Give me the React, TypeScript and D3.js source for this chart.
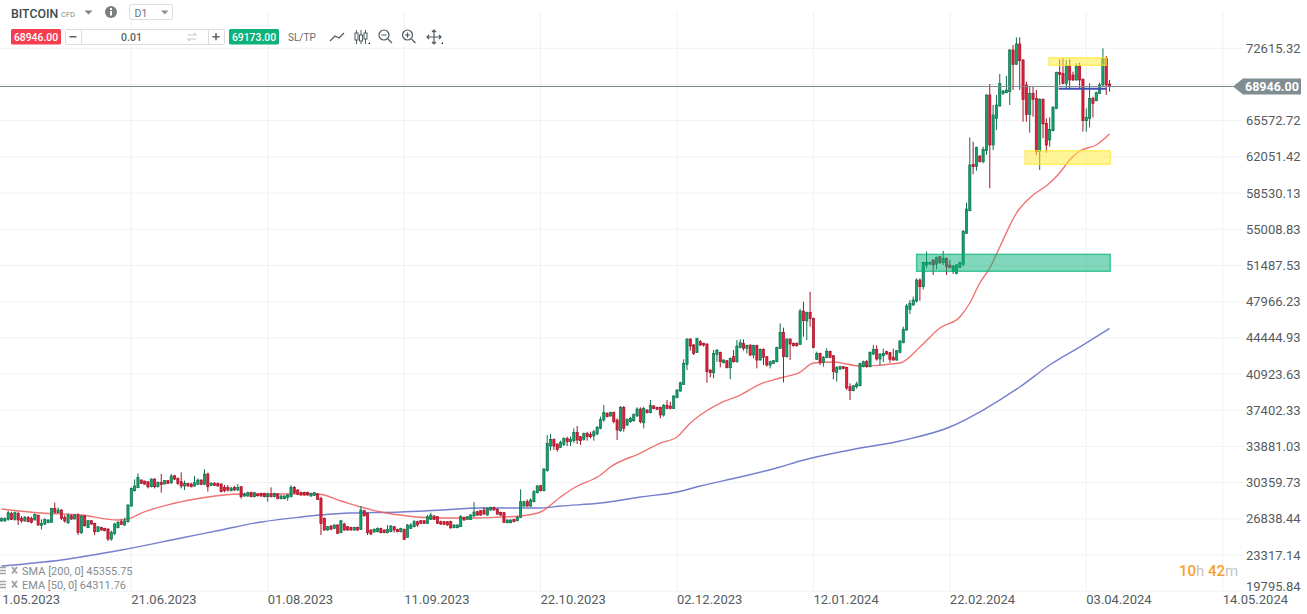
import * as d3 from "d3";

const startDate = "13.05.2023";

// daily OHLC
const opens = [
  26625,26625,26785,27370,26785,27370,26885,26625,26980,26885,
  26720,27205,26200,26330,26495,26495,27855,27435,27695,26980,
  26460,27140,26820,27205,25490,27110,25975,26655,26395,25585,
  26005,25910,25845,24870,25425,25975,26560,26235,26560,28080,
  29575,29865,30610,30510,30450,29960,30710,29960,30385,30220,
  30550,30350,31030,30770,30450,30030,30290,30220,30030,30190,
  30610,30190,31200,30090,30290,30290,30220,29900,29900,29575,
  29900,29640,
  29965,29055,29055,29410,28990,29250,29315,29315,28990,29250,
  28990,29250,28795,28795,28925,28990,29900,29640,29410,29410,
  29410,29055,29120,29250,28830,26880,25750,26135,25910,26235,
  25490,26330,26070,26005,25750,26005,25815,27630,27370,25750,
  25555,25585,25910,25750,25490,25585,26070,25815,25585,25815,
  25030,25910,26070,26560,26655,26655,26395,26785,27110,27045,
  26560,26560,26560,26560,25975,25975,26070,26980,26785,26785,
  27110,27530,27630,27695,27205,27695,27955,27760,27465,27435,
  26460,26460,26785,26655,26980,28080,28505,28080,28505,29380,
  30060,29575,31520,33920,34570,34115,33790,34085,34665,34345,
  34440,35250,34830,34570,35155,35055,34895,35090,35640,36450,
  37100,36840,37200,36450,35415,37685,35965,36290,36385,36840,
  37520,36190,37425,37165,37815,37685,37685,36940,37880,37815,
  37585,38625,39270,39920,41865,44330,43750,43035,44070,43910,
  43845,41315,41055,42840,43035,42030,42225,41540,42610,42125,
  43520,43910,43425,43750,42775,43715,42290,43325,42610,41800,
  41965,42125,
  43425,44981,42613,44332,43911,43911,43814,47056,46084,46927,46343,
  42354,42938,42062,42549,43133,42711,41090,41414,41642,41576,
  39695,39306,39695,39793,41641,42128,41641,42873,43328,42387,
  42711,43101,43003,42549,42290,43035,43976,45208,47219,47641,
  48030,50073,49424,51532,51630,52019,51630,52343,51759,52181,
  51532,50884,50721,51305,
  51597,54615,56820,61328,61101,62138,61587,62657,68073,63208,
  65803,67003,68235,68300,68397,72451,71057,73035,71478,69046,
  66192,68235,67749,62560,67652,65317,63695,64603,66776,70278,
  70181,69208,70895,70019,69533,70895,69597,65576,65803,67749,
  67522,68235,69046,71640,69143,
];
const closes = [
  26885,26885,27435,26785,27435,26720,26625,26980,26560,26495,
  27270,26235,26395,26785,26720,27855,27470,27695,26885,26625,
  27205,26820,27205,25520,27110,26170,26655,26330,25585,26070,
  25750,25685,24870,25520,26330,26495,26300,26625,28180,29800,
  30030,30870,30290,30220,29960,30710,29960,30385,30190,30550,
  30290,30990,30710,30290,30030,30290,30030,29960,30350,30610,
  30190,31200,29960,30290,30090,30030,29480,29575,29640,29830,
  29640,29900,
  28990,29250,29380,28990,29380,29090,29055,28990,29250,28990,
  29315,28830,29055,29055,29150,29900,29380,29250,29150,29150,
  29150,29315,29380,28730,26395,25750,26070,25815,26235,25425,
  26655,25750,25750,25750,26005,25750,27695,27140,25490,25360,
  25815,25910,25490,25490,25815,26135,25750,25585,25910,24840,
  26235,26235,26560,26235,26395,26395,27045,27205,26785,26395,
  26330,26300,26235,25975,26235,26235,27045,26720,27045,27205,
  27500,27205,27205,27305,27855,27955,27695,27305,27205,26495,
  26720,26720,26560,26980,28505,28505,28080,28665,29480,30030,
  29575,31685,34180,34570,33920,33595,34280,34665,34345,34570,
  35250,34505,34440,35155,34830,34830,35315,35740,36515,37200,
  36775,37200,36290,35480,37685,35640,36515,36615,36970,37520,
  36290,37585,37165,37880,37585,37490,36940,37880,37585,37585,
  38785,39370,40085,41965,44330,43650,42935,44400,43750,43750,
  41155,41055,42935,43260,42125,42290,41540,42450,42125,43650,
  43975,43425,43715,42775,43715,42290,43325,42550,41800,42125,
  42225,43520,
  44981,42613,44332,43846,43684,43684,47056,46116,46927,46343,43522,
  42938,42062,42549,43133,42549,41155,41544,41642,41479,39565,
  39306,39793,39955,41965,42128,41641,43035,43328,42387,42873,
  42938,42873,42355,42290,43198,44138,45273,47543,47803,48127,
  50073,49424,51792,51792,51792,51532,52278,51759,52181,51370,
  51273,51435,51532,51759,
  54777,56982,61263,61101,62982,61587,62787,68073,63208,66127,
  67100,69208,68462,68559,72451,71057,73035,71413,67652,66192,
  68235,67652,62560,67652,65252,63208,64733,66873,70278,70084,
  69208,70895,69533,69533,70895,69533,65576,65900,67749,67262,
  68300,69046,71640,69046,68981,
];
const highs = [
  26980,26980,27600,27530,27530,27530,27110,27110,27110,27045,
  27370,27205,26785,26885,26785,27920,28410,27920,27760,27205,
  27370,27270,27305,27370,27205,27205,26720,26720,26460,26135,
  26070,25975,25910,25685,26460,26625,26785,26950,28245,29900,
  30680,31260,30680,30550,30450,30770,30770,30480,31200,30610,
  30610,31200,31100,30870,31360,30550,30350,30350,31000,30770,
  30680,31650,31330,30420,30420,30350,30290,30125,30125,29960,
  30030,30220,
  30030,29380,29480,29480,29445,29315,29380,29380,29380,29900,
  29380,29315,29150,29120,29250,30125,30030,29705,29480,29480,
  29480,29380,29445,29315,28990,26980,26135,26235,26300,26300,
  26720,26460,26135,26070,26070,26070,28080,27695,27435,25815,
  25910,26005,25975,25815,26235,26235,26135,25880,25975,25880,
  26330,26395,26720,26655,26720,26720,27205,27435,27205,27110,
  26655,26620,26620,26655,26300,26300,27205,27045,27110,27305,
  28470,27630,27695,27955,27955,28020,28020,27855,27530,27500,
  26785,26785,26850,27110,29705,28600,28730,28830,29640,30125,
  30125,31750,34990,35090,34665,34180,34440,34765,34830,34830,
  35640,35870,34895,35220,35315,35315,35480,35870,36775,37910,
  37200,37265,37265,36615,37815,37815,36615,36775,37100,37685,
  37685,37750,37490,38400,37880,37750,37750,38005,38400,38235,
  38850,39435,40180,42355,44400,44400,43845,44430,44235,43975,
  43910,41380,43260,43325,43100,42355,42290,42550,43260,44235,
  44300,44300,43780,43780,43780,43780,43425,43425,42680,42225,
  42290,43585,
  45856,45435,44397,44397,44008,44008,47251,47964,46992,48937,46408,
  43100,43003,42679,43425,43198,42776,41705,41738,41706,41641,
  40020,39857,40182,42030,42225,42290,43133,43749,43717,42938,
  43392,43198,43068,43392,43263,44235,45533,47738,48127,48451,
  50235,50235,51856,52830,51856,52083,52343,52408,52894,52246,
  52019,51532,51630,51856,
  54939,57598,63955,63533,63047,62203,63047,68138,69143,67100,
  68073,70116,68559,69922,72516,72938,73684,73684,71543,69370,
  68884,68884,68559,67749,67749,65803,65900,67003,70343,71543,
  71640,71478,71543,70343,71154,71219,69695,66776,69208,67911,
  68397,69273,72613,71867,69533,
];
const lows = [
  26560,26560,26655,26720,26655,26235,26460,26560,26495,26395,
  26720,26170,25810,26235,26395,26460,27370,27370,26720,26460,
  26330,26720,26785,25260,25360,26070,25940,26235,25260,25555,
  25685,25620,24680,24710,25260,25910,26235,26170,26460,28020,
  29480,29830,30220,30160,29800,29900,29800,29900,29380,30220,
  30220,30220,30610,30125,29800,29640,29960,29900,29960,30125,
  30125,30125,29480,30030,30030,29960,29410,29410,29480,29510,
  29575,29540,
  28795,28990,28990,28925,28925,28990,28990,28925,28505,28925,
  28925,28730,28730,28730,28600,28925,29250,29150,29090,29090,
  29090,28990,29055,28665,25260,25680,25680,25750,25845,25360,
  25425,25680,25680,25680,25680,25680,25750,27045,25260,25260,
  25490,25520,25425,25425,25425,25520,25490,25520,25520,24775,
  25030,25845,26005,26070,26330,26330,26330,26720,26720,26330,
  26235,26235,26170,25845,25910,25910,26070,26655,26720,26720,
  27045,27110,27140,27240,27140,27630,27630,27205,27140,26430,
  26395,26395,26495,26590,26915,28020,28020,28020,28445,29315,
  29510,29510,31430,33465,33530,33370,33725,33920,33920,33920,
  34245,34115,34020,34440,34440,34670,34440,34990,35545,36290,
  36715,36775,36125,34505,35315,35315,35870,36190,36290,36775,
  36125,35640,37100,37100,37490,37425,36615,36775,37490,37490,
  37525,38560,39210,39855,41315,43195,42775,42970,43650,43585,
  40085,40600,40505,42125,41575,41965,41480,40410,42030,42030,
  43425,43195,42935,42680,42450,41480,42225,41800,41640,41480,
  41900,42060,
  43360,40116,42516,42290,43586,43586,43749,44559,44235,45532,43424,
  42290,41803,41641,42452,42452,40409,40181,41317,41382,39371,
  38398,39241,39501,39728,41576,41544,41576,42776,42225,41771,
  42095,42808,42030,42225,42225,42938,43911,45143,46765,47576,
  47868,48062,49165,51208,51532,50559,51110,51630,51532,50559,
  51208,50656,50624,51240,
  51400,54550,56755,60355,60711,61522,61425,62236,58993,62722,
  64668,66938,68073,68235,67100,68559,70992,68559,65479,65479,
  64409,65965,62236,60776,63857,62463,63047,64538,66679,69046,
  69111,68722,68722,69435,69468,68722,64506,64506,64927,65900,
  67457,68170,68949,68073,68397,
];

// moving averages, sampled by candle number
const emaDays = [0,12,24,35,38,42,51,60,72,80,95,102,108,114,122,132,142,150,156,162,168,172,180,183,192,198,203,207,210,216,222,228,234,240,244,250,258,270,276,282,288,291,294,297,300,305,309,315,318,321,324,329,333];
const emaValues = [27790,27400,27205,26720,26817,27400,28277,28860,29250,29250,29250,28570,27985,27500,27110,26915,26915,27010,27110,27500,28960,29835,31100,31880,33240,34210,34800,36160,36940,38100,38880,39950,40535,41120,41995,42090,41700,41995,43550,45400,46470,47835,49780,51240,53280,56590,58050,59510,60480,61750,62620,63210,64280];
const smaDays = [0,18,36,54,66,78,90,96,105,120,132,144,162,168,180,192,203,210,222,234,240,255,270,285,295,306,315,324,333];
const smaValues = [22245,22830,23800,24970,25750,26525,27010,27205,27400,27500,27695,27890,27890,28080,28375,28960,29445,30030,30905,31880,32460,33530,34410,35770,37420,39660,41800,43550,45355];

const priceTicks = [72615.32,69093.99,65572.72,62051.42,58530.13,55008.83,51487.53,47966.23,44444.93,40923.63,37402.33,33881.03,30359.73,26838.44,23317.14,19795.84];
const hiddenPriceLabels = [69093.99];
const dateTicks = ["11.05.2023","21.06.2023","01.08.2023","11.09.2023","22.10.2023","02.12.2023","12.01.2024","22.02.2024","03.04.2024","14.05.2024"];

const lastPrice = 68946;
const bidLabel = "68946.00";
const askLabel = "69173.00";

// drawn zones: [first candle, last candle, upper price, lower price]
const yellowZones = [[314.8, 332, 71700, 70960], [307.6, 333.2, 62650, 61330]];
const greenZone = [275, 333.2, 52570, 50920];
const blueLevel = [317.7, 332.1, 68686];

const width = 1307;
const height = 614;
const fontFamily = "Roboto, sans-serif";

const parseDate = d3.utcParse("%d.%m.%Y");
const first = parseDate(startDate)!;
const dayToDate = (d: number) => new Date(first.getTime() + d * 864e5);

const x = d3
  .scaleUtc()
  .domain([parseDate("21.06.2023")!, parseDate("14.05.2024")!])
  .range([131.3, 1222.7]);
const y = d3.scaleLinear().domain([19795.84, 72615.32]).range([591.2, 48.3]);

const xDay = (d: number) => x(dayToDate(d));

const upBody = "#12a36b";
const upEdge = "#0e6f4c";
const downBody = "#e01f38";
const downEdge = "#a3152a";

const linePath = (days: number[], values: number[]) =>
  d3
    .line<number>()
    .x((d) => xDay(d))
    .y((_, i) => y(values[i]))
    .curve(d3.curveMonotoneX)(days)!;

const Zone = ({ z, fill }: { z: number[]; fill: string }) => (
  <rect
    x={xDay(z[0])}
    y={y(z[2])}
    width={xDay(z[1]) - xDay(z[0])}
    height={y(z[3]) - y(z[2])}
    fill={fill}
    fillOpacity={0.5}
    stroke={fill}
    strokeOpacity={0.7}
    strokeWidth={1.4}
  />
);

const Toolbar = () => (
  <g fontFamily={fontFamily}>
    <text x={11} y={17.5} fontSize={12.3} fontWeight={500} fill="#3c4a52">BITCOIN</text>
    <text x={61} y={16.5} fontSize={7.5} fill="#7c8a92">CFD</text>
    <path d="M84.5 10.5h8l-4 4z" fill="#78848a" />
    <circle cx={111} cy={12} r={6} fill="#7a7f82" />
    <rect x={110} y={11} width={2} height={4.5} fill="#fff" />
    <rect x={110} y={8} width={2} height={2} fill="#fff" />
    <rect x={129.5} y={4.5} width={43} height={15} rx={1.5} fill="#fff" stroke="#dedede" />
    <text x={134.5} y={16.5} fontSize={10.5} fill="#6b7780">D1</text>
    <path d="M161 10.5h7.5l-3.75 4z" fill="#8a949a" />

    <rect x={11} y={29} width={50} height={15.5} rx={1.5} fill="#f53f51" />
    <text x={36} y={41} fontSize={10.4} fontWeight={500} fill="#fff" textAnchor="middle">{bidLabel}</text>
    <rect x={65.5} y={29.5} width={159} height={15} rx={1} fill="#fff" stroke="#dcdcdc" />
    <line x1={81.5} x2={81.5} y1={29.5} y2={44.5} stroke="#dcdcdc" />
    <line x1={208.5} x2={208.5} y1={29.5} y2={44.5} stroke="#dcdcdc" />
    <rect x={69.5} y={36} width={7} height={1.5} fill="#5a5f63" />
    <rect x={212.5} y={36} width={7} height={1.5} fill="#5a5f63" />
    <rect x={215.25} y={33.25} width={1.5} height={7} fill="#5a5f63" />
    <text x={131.5} y={41} fontSize={10.5} fontWeight={500} fill="#5a5f63" textAnchor="middle">0.01</text>
    <path d="M188 35h8l-2-2M196 39h-8l2 2" fill="none" stroke="#c9c9c9" strokeWidth={1.2} />
    <rect x={229} y={29} width={50} height={15.5} rx={1.5} fill="#0db27a" />
    <text x={254} y={41} fontSize={10.4} fontWeight={500} fill="#fff" textAnchor="middle">{askLabel}</text>
    <text x={288} y={41} fontSize={10} fill="#5f6b72">SL/TP</text>

    <path d="M330 41l5-5 4 2 5-5" fill="none" stroke="#4d5a61" strokeWidth={1.2} />
    <g stroke="#4d5a61" strokeWidth={1} fill="#fff">
      <path d="M356.5 30v14M361 30v14M365.5 30v14" />
      <rect x={355} y={33} width={3} height={7} />
      <rect x={359.5} y={35} width={3} height={6} />
      <rect x={364} y={33} width={3} height={6} />
    </g>
    <path d="M368 44l2 0 0-2z" fill="#222" />
    <g fill="none" stroke="#4d5a61" strokeWidth={1.2}>
      <circle cx={384} cy={35} r={5} />
      <path d="M381.5 35h5M388 39l4 4" />
      <circle cx={407.5} cy={35} r={5} />
      <path d="M405 35h5M407.5 32.5v5M411.5 39l4 4" />
      <path d="M427 37h14M434 30v14M429 35l-2 2 2 2M439 35l2 2-2 2M432 32l2-2 2 2M432 42l2 2 2-2" />
    </g>
    <path d="M441 44l2 0 0-2z" fill="#222" />
  </g>
);

const App = () => {
  const bodyWidth = 2.2;
  const tagY = Math.round(y(lastPrice)) + 0.5;
  return (
    <svg
      width={width}
      height={height}
      style={{ position: "absolute", left: 0, top: 0, background: "#fff" }}
    >
      <g stroke="#f1f1f1" strokeWidth={1}>
        {priceTicks.map((t) => (
          <line key={t} x1={0} x2={1243} y1={y(t)} y2={y(t)} />
        ))}
        {dateTicks.map((t) => (
          <line key={t} x1={x(parseDate(t)!)} x2={x(parseDate(t)!)} y1={12} y2={592} />
        ))}
      </g>

      <Toolbar />

      <path d={linePath(smaDays, smaValues)} fill="none" stroke="#5c68c4" strokeOpacity={0.85} strokeWidth={1.4} />
      <path d={linePath(emaDays, emaValues)} fill="none" stroke="#ee5a5a" strokeOpacity={0.85} strokeWidth={1.4} />

      {closes.map((c, i) => {
        const o = opens[i];
        const up = c >= o;
        const cx = xDay(i);
        const top = y(Math.max(o, c));
        const bottom = y(Math.min(o, c));
        return (
          <g key={i}>
            <line x1={cx} x2={cx} y1={y(highs[i])} y2={y(lows[i])} stroke={up ? upEdge : downEdge} strokeWidth={1} />
            <rect
              x={cx - bodyWidth / 2}
              y={top}
              width={bodyWidth}
              height={Math.max(bottom - top, 1)}
              fill={up ? upBody : downBody}
              stroke={up ? upEdge : downEdge}
              strokeWidth={0.7}
            />
          </g>
        );
      })}

      <Zone z={greenZone} fill="#04b078" />
      {yellowZones.map((z) => (
        <Zone key={z[0]} z={z} fill="#ffe930" />
      ))}
      <line
        x1={xDay(blueLevel[0])}
        x2={xDay(blueLevel[1])}
        y1={y(blueLevel[2])}
        y2={y(blueLevel[2])}
        stroke="#3f4fb5"
        strokeWidth={2}
      />

      <line x1={0} x2={1240} y1={tagY} y2={tagY} stroke="#7f8c92" strokeWidth={1} />
      <path d={`M1233 ${tagY}l10 -8h58v16h-58z`} fill="#808d92" />
      <text x={1245} y={tagY + 4.5} fontFamily={fontFamily} fontSize={12.5} fontWeight={700} fill="#fff">68946.00</text>

      <g fontFamily={fontFamily} fontSize={13} fill="#555b60">
        {priceTicks
          .filter((t) => !hiddenPriceLabels.includes(t))
          .map((t, i, list) => (
            <text key={t} x={1246} y={(i === list.length - 1 ? y(t) - 5 : y(t)) + 4.5}>
              {t.toFixed(2)}
            </text>
          ))}
        {dateTicks.map((t, i) =>
          i === 0 ? (
            // first label runs off the left edge, only the part after the cut shows
            <text key={t} x={x(parseDate(t)!) + 7.3} y={604}>{t.slice(1)}</text>
          ) : (
            <text key={t} x={x(parseDate(t)!)} y={604}>{t}</text>
          )
        )}
      </g>

      <g fontFamily={fontFamily} fontSize={11} fill="#868b8f">
        <text x={22} y={574.5}>SMA [200, 0] 45355.75</text>
        <text x={22} y={588.5}>EMA [50, 0] 64311.76</text>
      </g>
      <g stroke="#a4a4a4" strokeWidth={1.3}>
        <path d="M0 567.5h6M0 570.5h6M0 573.5h6" />
        <path d="M0 581.5h6M0 584.5h6M0 587.5h6" />
        <path d="M12 567l5 6.5M17 567l-5 6.5" strokeWidth={2} />
        <path d="M12 581l5 6.5M17 581l-5 6.5" strokeWidth={2} />
      </g>

      <text x={1179} y={576} fontFamily={fontFamily} fontSize={15} fontWeight={500}>
        <tspan fill="#f7a02c">10</tspan>
        <tspan fill="#c4c4c4" fontWeight={400}>h </tspan>
        <tspan fill="#f7a02c">42</tspan>
        <tspan fill="#c4c4c4" fontWeight={400}>m</tspan>
      </text>
    </svg>
  );
};

export default App;
